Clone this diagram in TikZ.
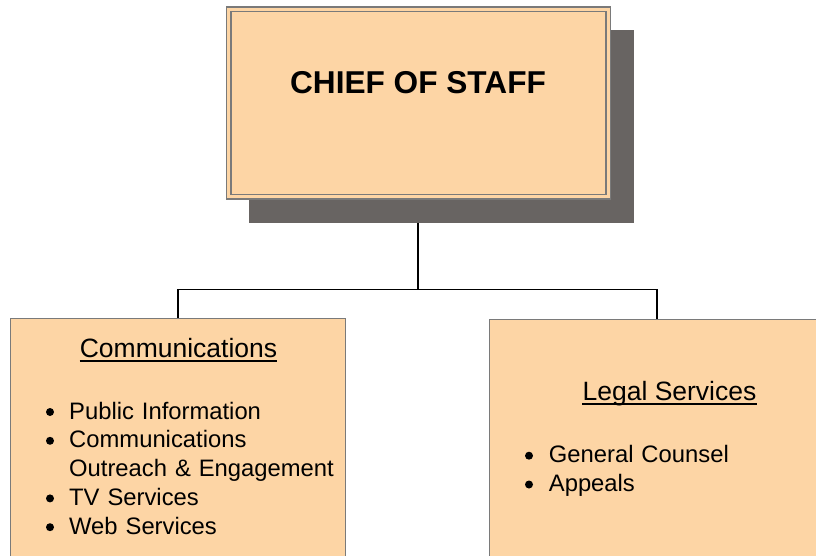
\documentclass[tikz,border=0pt]{standalone}
\usepackage{fontspec}
\setmainfont{Liberation Sans}
\definecolor{peach}{HTML}{FDD5A5}
\definecolor{shadowgray}{HTML}{686462}
\definecolor{edgegray}{HTML}{7A7A7A}
\tikzset{
  orgbox/.style={draw=edgegray, line width=1.5pt, fill=peach, inner sep=0pt},
  wire/.style={draw=black, line width=1.5pt},
  titletext/.style={inner sep=0pt, anchor=base, font=\fontsize{26.5}{30}\selectfont},
  itemtext/.style={inner sep=0pt, anchor=base west, text width=300pt, align=left,
     font=\fontsize{23.8}{28.8}\selectfont},
  uline/.style={draw=black, line width=1.3pt},
  bulletdot/.style={fill=black}
}
\begin{document}
\begin{tikzpicture}[x=1pt,y=-1pt]
\useasboundingbox (0,0) rectangle (816,556);
% shadow and chief box
\node[fill=shadowgray, inner sep=0pt, minimum width=385pt, minimum height=192.4pt] (shadow) at (441.65,126.5) {};
\node[draw=edgegray, line width=1.5pt, double=peach, double distance=3pt, fill=peach,
      inner sep=0pt, minimum width=379.5pt, minimum height=187.3pt] (chief) at (418.25,103.15) {};
\node[inner sep=0pt, anchor=base, font=\fontsize{31.6}{36}\selectfont\bfseries] (chieft) at (418,94) {CHIEF OF STAFF};
% child boxes
\node[orgbox, minimum width=335pt, minimum height=281.5pt] (comm) at (178.2,459.25) {};
\node[orgbox, minimum width=335pt, minimum height=281pt] (legal) at (657,460) {};
% connectors
\coordinate (j) at (418,289.3);
\draw[wire] (j |- shadow.south) -- (j);
\draw[wire] (comm.north) |- (j) -| (legal.north);
% communications text
\node[titletext] (commt) at (178.5,357.7) {Communications};
\draw[uline] ([yshift=-3.3pt]commt.base west) -- ([yshift=-3.3pt]commt.base east);
\node[itemtext] (commi) at (69,419) {Public Information\\
Communications\\
Outreach \& Engagement\\
TV Services\\
Web Services};
\foreach \yy in {412,440.8,498.4,527.2} \fill[bulletdot] (50,\yy) circle (4pt);
% legal text
\node[titletext] (legalt) at (669.5,400.7) {Legal Services};
\draw[uline] ([yshift=-3.3pt]legalt.base west) -- ([yshift=-3.3pt]legalt.base east);
\node[itemtext] (legali) at (548.7,462.7) {General Counsel\\
Appeals};
\foreach \yy in {455.7,484.5} \fill[bulletdot] (529,\yy) circle (4pt);
\end{tikzpicture}
\end{document}
